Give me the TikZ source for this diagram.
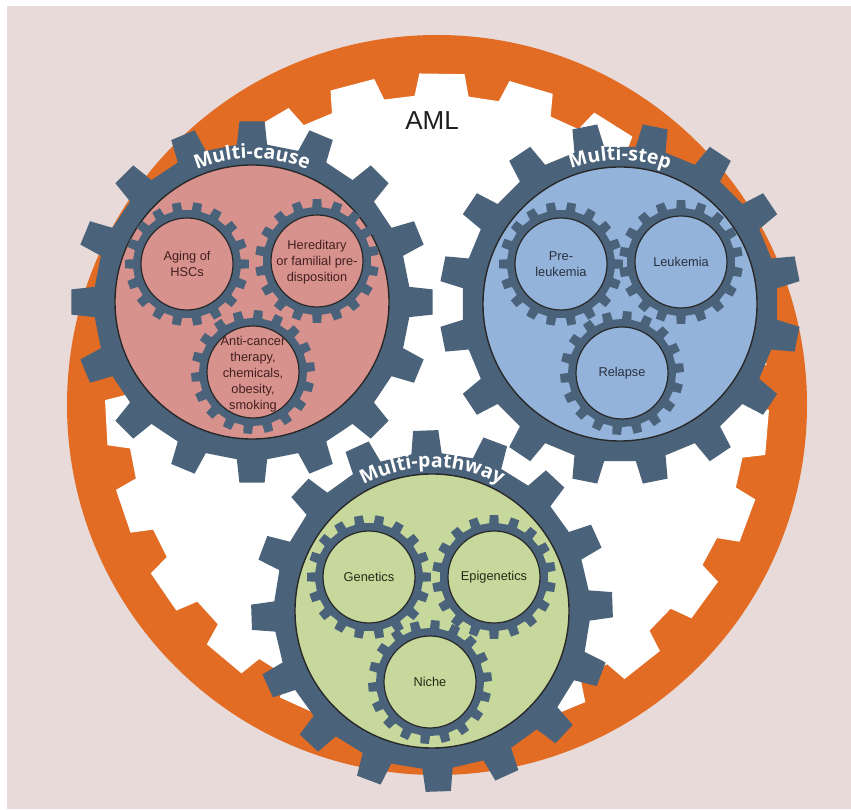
\documentclass[tikz,border=0pt]{standalone}
\usepackage{fontspec}
\setmainfont{Liberation Sans}
\newfontfamily\gfont{Open Sans}
\usetikzlibrary{decorations.text}
\definecolor{bgpink}{RGB}{231,218,217}
\definecolor{orng}{RGB}{226,108,36}
\definecolor{slate}{RGB}{75,99,122}
\definecolor{diskred}{RGB}{216,146,142}
\definecolor{diskblue}{RGB}{148,179,219}
\definecolor{diskgreen}{RGB}{198,216,155}
\definecolor{txtred}{RGB}{66,32,32}
\definecolor{txtblue}{RGB}{40,48,62}
\definecolor{txtgreen}{RGB}{34,44,24}
\definecolor{outl}{RGB}{40,40,40}
\newcommand{\gearlabelfont}{\gfont\bfseries\fontsize{19.5}{19.5}\selectfont}
% #1 style, #2 centre, #3 teeth, #4 offset, #5 root r, #6 tip r, #7 root half-angle, #8 tip half-angle
\newcommand{\mygear}[8]{%
  \fill[#1,shift={(#2)}] ({#4-#7}:#5)
  \foreach \k in {1,...,#3}{
    -- ({#4+360/#3*(\k-1)-#7}:#5) -- ({#4+360/#3*(\k-1)-#8}:#6)
    -- ({#4+360/#3*(\k-1)+#8}:#6) -- ({#4+360/#3*(\k-1)+#7}:#5)
  } -- cycle;}
\tikzset{
  bigdisk/.style={draw=outl, line width=1.4pt},
  smalldisk/.style={draw=outl, line width=1.2pt},
  lbl/.style={align=center, inner sep=0pt, font=\fontsize{12.8}{16}\selectfont},
  gearlabel/.style={decorate, decoration={text along path, text={|\gearlabelfont|#1}, text align=center, text color=white}}
}
\begin{document}
\begin{tikzpicture}[x=1pt,y=1pt]
\useasboundingbox (0,0) rectangle (851,809);
\fill[white] (0,0) rectangle (851,809);
\fill[bgpink] (7,0) rectangle (851,803);
% outer internal gear
\fill[orng] (437,404) circle (370pt);
\mygear{white}{437,404}{23}{104.8}{310}{332}{5.0}{3.9}
% big gears
\mygear{slate}{252,507}{16}{90}{158}{181}{5.5}{4}
\mygear{slate}{620,505}{16}{101.25}{158}{181}{5.5}{4}
\mygear{slate}{432,198}{16}{92}{158}{181}{5.5}{4}
\filldraw[bigdisk, fill=diskred] (252,507) circle (137pt);
\filldraw[bigdisk, fill=diskblue] (620,505) circle (137pt);
\filldraw[bigdisk, fill=diskgreen] (432,198) circle (137pt);
% big gear labels
\path[gearlabel={Multi-cause}] ([shift={(170:143.5pt)}]252,507) arc[start angle=170, end angle=10, radius=143.5pt];
\path[gearlabel={Multi-step}] ([shift={(170:143.5pt)}]620,505) arc[start angle=170, end angle=10, radius=143.5pt];
\path[gearlabel={Multi-pathway}] ([shift={(170:143.5pt)}]432,198) arc[start angle=170, end angle=10, radius=143.5pt];
% small gears
\foreach \cx/\cy/\f/\o in {187/545/diskred/0, 317/548/diskred/10, 253/437/diskred/5,
                       561/545/diskblue/0, 681/547/diskblue/10, 622/436/diskblue/5,
                       369/232/diskgreen/0, 494/232/diskgreen/10, 430/127/diskgreen/5}{
  \mygear{slate}{\cx,\cy}{18}{\o}{54}{62}{5}{4}
  \filldraw[smalldisk, fill=\f] (\cx,\cy) circle (46pt);
}
% labels
\node[font=\fontsize{26}{30}\selectfont, text=black!88] (aml) at (432,688) {AML};
\node[lbl, text=txtred] (aging) at (187,545) {Aging of\\HSCs};
\node[lbl, text=txtred] (hered) at (317,547) {Hereditary\\or familial pre-\\disposition};
\node[lbl, text=txtred] (anti) at (253,435) {Anti-cancer\\therapy,\\chemicals,\\obesity,\\smoking};
\node[lbl, text=txtblue] (pre) at (561,545) {Pre-\\leukemia};
\node[lbl, text=txtblue] (leuk) at (681,547) {Leukemia};
\node[lbl, text=txtblue] (relapse) at (622,436) {Relapse};
\node[lbl, text=txtgreen] (gen) at (369,232) {Genetics};
\node[lbl, text=txtgreen] (epi) at (494,232) {Epigenetics};
\node[lbl, text=txtgreen] (niche) at (430,127) {Niche};
\end{tikzpicture}
\end{document}
